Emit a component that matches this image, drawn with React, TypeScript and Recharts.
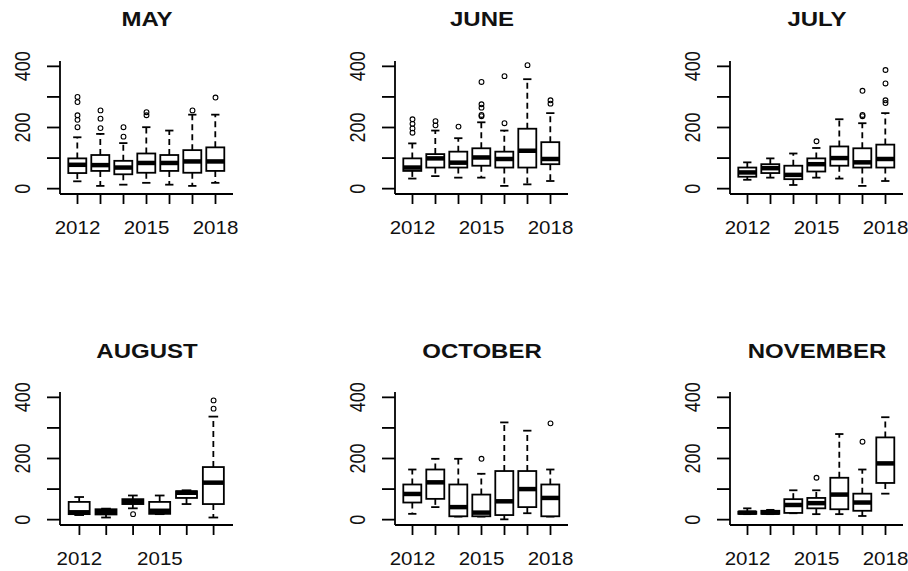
import React from "react";
import { ComposedChart, Bar, Line, XAxis, YAxis } from "recharts";

// five-number summaries per year: [lowWhisker, q1, median, q3, highWhisker]
const YEARS = ["2012", "2013", "2014", "2015", "2016", "2017", "2018"];
const AUG_YEARS = YEARS.slice(0, 6);
const LABELLED_YEARS = ["2012", "2015", "2018"];
const Y_TICKS = [0, 100, 200, 300, 400];
const Y_LABELS = [0, 200, 400];

const mayStats = [
  [24, 51, 78, 99, 168], [9, 58, 77, 110, 179], [13, 47, 69, 91, 149], [19, 52, 84, 115, 201],
  [13, 58, 84, 110, 190], [9, 52, 89, 126, 242], [19, 58, 89, 135, 242],
];
const mayOutliers = [[300, 283, 240, 225, 201], [256, 229, 198], [201, 170], [250, 240], [], [256], [298]];

const juneStats = [
  [33, 58, 69, 99, 148], [41, 69, 99, 113, 190], [36, 69, 85, 121, 165], [36, 75, 102, 132, 217],
  [9, 69, 97, 121, 190], [14, 69, 124, 196, 358], [25, 80, 97, 152, 247],
];
const juneOutliers = [[227, 212, 197, 183], [221, 207], [203], [349, 276, 265, 241, 237], [368, 214], [404], [289, 278]];

const julyStats = [
  [29, 39, 53, 69, 86], [36, 51, 67, 80, 99], [12, 31, 45, 75, 115], [36, 56, 80, 99, 133],
  [33, 75, 100, 138, 227], [9, 69, 86, 132, 214], [25, 69, 97, 144, 247],
];
const julyOutliers = [[], [], [], [155], [], [320, 241, 237], [388, 344, 289, 280]];

const augustStats = [
  [15, 18, 24, 58, 74], [7, 17, 25, 34, 36], [37, 51, 58, 67, 79],
  [18, 19, 29, 58, 79], [51, 71, 88, 93, 96], [7, 51, 121, 172, 337],
];
const augustOutliers = [[], [], [18], [], [], [390, 363]];

const octoberStats = [
  [19, 56, 84, 115, 164], [41, 68, 122, 164, 199], [10, 11, 41, 115, 199], [10, 11, 23, 82, 150],
  [1, 15, 60, 159, 318], [21, 41, 100, 159, 291], [10, 11, 71, 115, 164],
];
const octoberOutliers = [[], [], [], [199], [], [], [315]];

const novemberStats = [
  [18, 19, 23, 26, 37], [18, 19, 23, 29, 32], [21, 22, 48, 67, 96], [18, 37, 54, 71, 96],
  [18, 34, 82, 137, 280], [12, 29, 56, 85, 164], [85, 120, 184, 269, 335],
];
const novemberOutliers = [[], [], [], [137], [], [255], []];

const PANELS = [
  { title: "MAY", years: YEARS, stats: mayStats, outliers: mayOutliers },
  { title: "JUNE", years: YEARS, stats: juneStats, outliers: juneOutliers },
  { title: "JULY", years: YEARS, stats: julyStats, outliers: julyOutliers },
  { title: "AUGUST", years: AUG_YEARS, stats: augustStats, outliers: augustOutliers },
  { title: "OCTOBER", years: YEARS, stats: octoberStats, outliers: octoberOutliers },
  { title: "NOVEMBER", years: YEARS, stats: novemberStats, outliers: novemberOutliers },
];

const COL_LEFT = [60, 395, 730];
const ROW_TOP = [61, 392];
const PLOT_W = 173;
const PLOT_H = 133;
const AXIS_W = 60;
const TOP_M = 20;
const RIGHT_M = 32;
const X_AXIS_H = 45;
const FONT = "'Liberation Sans', Arial, Helvetica, sans-serif";
const STRETCH = 1.2;
const X_STRETCH = 1.14;
const INK = "#000";

function BoxShape(props: any) {
  const { x, y, width, height, payload } = props;
  const [lo, q1, med, q3, hi] = payload.stats;
  const top = Math.min(y, y + height);
  const bot = Math.max(y, y + height);
  const k = hi > lo ? (bot - top) / (hi - lo) : 0;
  const py = (v: number) => bot - (v - lo) * k;
  const cx = x + width / 2;
  const cap = width * 0.23;
  return (
    <g>
      <line x1={cx} x2={cx} y1={py(q3)} y2={py(hi)} stroke={INK} strokeWidth={1.8} strokeDasharray="6 4" />
      <line x1={cx} x2={cx} y1={py(q1)} y2={py(lo)} stroke={INK} strokeWidth={1.8} strokeDasharray="6 4" />
      <line x1={cx - cap} x2={cx + cap} y1={py(hi)} y2={py(hi)} stroke={INK} strokeWidth={1.8} />
      <line x1={cx - cap} x2={cx + cap} y1={py(lo)} y2={py(lo)} stroke={INK} strokeWidth={1.8} />
      <rect x={x} y={py(q3)} width={width} height={py(q1) - py(q3)} fill="#fff" stroke={INK} strokeWidth={1.8} />
      <line x1={x} x2={x + width} y1={py(med)} y2={py(med)} stroke={INK} strokeWidth={4.5} />
    </g>
  );
}

function OutlierDot(props: any) {
  const { cx, cy, value, index } = props;
  if (value == null || cy == null || Number.isNaN(cy)) return <g key={index} />;
  return <circle key={index} cx={cx} cy={cy} r={2.4} fill="none" stroke={INK} strokeWidth={1.1} />;
}

function XTick(props: any) {
  const { x, y, payload } = props;
  if (!LABELLED_YEARS.includes(payload.value)) return <g />;
  return (
    <g transform={`translate(${x},${y + 30}) scale(${X_STRETCH},1)`}>
      <text textAnchor="middle" fontSize={18} fontFamily={FONT} fill="#111">{payload.value}</text>
    </g>
  );
}

function YTick(props: any) {
  const { x, y, payload } = props;
  if (!Y_LABELS.includes(payload.value)) return <g />;
  return (
    <g transform={`translate(${x - 24.5},${y}) scale(${STRETCH},1) rotate(-90)`}>
      <text textAnchor="middle" dy="0.36em" fontSize={18} fontFamily={FONT} fill="#111">{payload.value}</text>
    </g>
  );
}

function Panel({ panel, col, row }: { panel: typeof PANELS[number]; col: number; row: number }) {
  const nOut = Math.max(...panel.outliers.map((o) => o.length));
  const data = panel.years.map((year, i) => {
    const rec: any = { year, stats: panel.stats[i], range: [panel.stats[i][0], panel.stats[i][4]] };
    for (let j = 0; j < nOut; j++) rec[`o${j}`] = panel.outliers[i][j] ?? null;
    return rec;
  });
  const left = COL_LEFT[col] - AXIS_W;
  const top = ROW_TOP[row] - TOP_M;
  const lineStyle = { stroke: INK, strokeWidth: 1.8 };
  return (
    <>
      <div
        style={{
          position: "absolute",
          left: COL_LEFT[col] + PLOT_W / 2,
          top: row === 0 ? 18.5 : 351,
          transform: `translate(-50%, -50%) scaleX(${STRETCH})`,
          fontFamily: FONT,
          fontWeight: "bold",
          fontSize: 20,
          color: "#111",
          whiteSpace: "nowrap",
        }}
      >
        {panel.title}
      </div>
      <div style={{ position: "absolute", left, top }}>
        <ComposedChart
          width={AXIS_W + PLOT_W + RIGHT_M}
          height={TOP_M + PLOT_H + X_AXIS_H}
          data={data}
          margin={{ top: TOP_M, right: RIGHT_M, bottom: 0, left: 0 }}
          barCategoryGap="10%"
        >
          <XAxis
            dataKey="year"
            interval={0}
            padding={{ left: 6, right: 6 }}
            height={X_AXIS_H}
            tickSize={10}
            tickMargin={0}
            tick={<XTick />}
            tickLine={lineStyle}
            axisLine={lineStyle}
          />
          <XAxis xAxisId="top" dataKey="year" orientation="top" height={0} tick={false} tickLine={false} axisLine={lineStyle} />
          <YAxis
            domain={[-17.5, 417.5]}
            ticks={Y_TICKS}
            interval={0}
            allowDataOverflow
            width={AXIS_W}
            tickSize={13}
            tickMargin={0}
            tick={<YTick />}
            tickLine={lineStyle}
            axisLine={lineStyle}
          />
          <YAxis yAxisId="right" orientation="right" domain={[-17.5, 417.5]} width={0} tick={false} tickLine={false} axisLine={lineStyle} />
          <Bar dataKey="range" shape={<BoxShape />} isAnimationActive={false} />
          {Array.from({ length: nOut }, (_, j) => (
            <Line
              key={j}
              dataKey={`o${j}`}
              stroke="none"
              dot={OutlierDot}
              activeDot={false}
              isAnimationActive={false}
            />
          ))}
        </ComposedChart>
      </div>
    </>
  );
}

export default function App() {
  return (
    <div style={{ position: "fixed", left: 0, top: 0, width: 908, height: 571, background: "#fff", overflow: "hidden" }}>
      {PANELS.map((p, i) => (
        <Panel key={p.title} panel={p} col={i % 3} row={Math.floor(i / 3)} />
      ))}
    </div>
  );
}
